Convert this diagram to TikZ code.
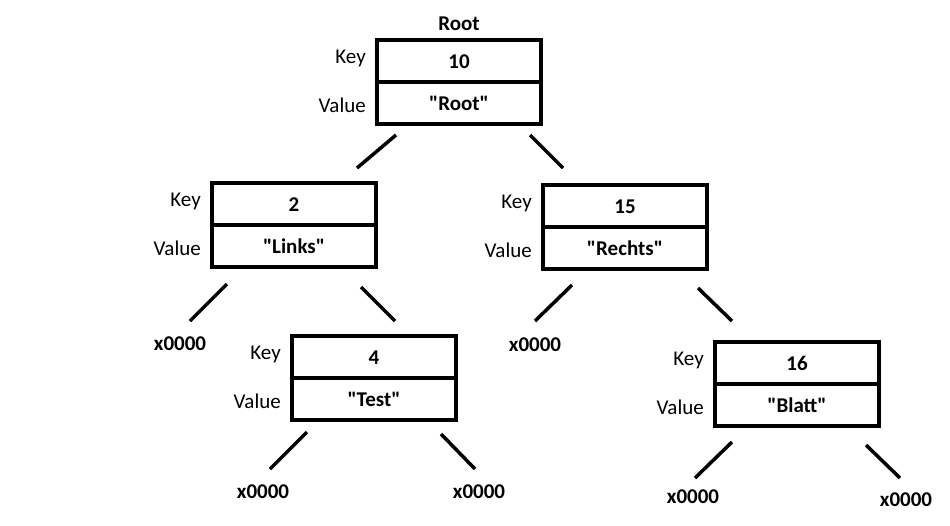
\documentclass[tikz,border=0pt]{standalone}
\usepackage{fontspec}
\setmainfont{Carlito}
\usetikzlibrary{positioning, calc}

\begin{document}
\begin{tikzpicture}[x=1pt, y=-1pt,
	every node/.style = {font=\fontsize{21}{25}\selectfont},
	box/.style = {draw, line width=3.5pt, minimum width=164pt, minimum height=42pt, inner sep=0pt, outer sep=0pt, text height=14pt, text depth=0pt, font=\fontsize{21}{25}\selectfont\bfseries},
	lbl/.style = {inner sep=0pt, yshift=-2pt},
	keylbl/.style = {inner sep=0pt, yshift=3pt},
	leaf/.style = {inner sep=0pt, font=\fontsize{21}{25}\selectfont\bfseries},
	edge/.style = {line width=3.5pt}]
	\useasboundingbox (0,0) rectangle (950,525);

	% root
	\node[box] (k10) at (459,61) {10};
	\node[box, below=0pt of k10] (v10) {\textquotedbl Root\textquotedbl};
	\node[leaf, above=9pt of k10] (top) {Root};
	\node[keylbl, left=11pt of k10] (kl10) {Key};
	\node[lbl, left=11pt of v10] (vl10) {Value};

	% level 1
	\node[box] (k2) at (294,204) {2};
	\node[box, below=0pt of k2] (v2) {\textquotedbl Links\textquotedbl};
	\node[keylbl, left=11pt of k2] (kl2) {Key};
	\node[lbl, left=11pt of v2] (vl2) {Value};

	\node[box] (k15) at (625,206) {15};
	\node[box, below=0pt of k15] (v15) {\textquotedbl Rechts\textquotedbl};
	\node[keylbl, left=11pt of k15] (kl15) {Key};
	\node[lbl, left=11pt of v15] (vl15) {Value};

	% level 2
	\node[box] (k4) at (374,357) {4};
	\node[box, below=0pt of k4] (v4) {\textquotedbl Test\textquotedbl};
	\node[keylbl, left=11pt of k4] (kl4) {Key};
	\node[lbl, left=11pt of v4] (vl4) {Value};

	\node[box] (k16) at (797,363) {16};
	\node[box, below=0pt of k16] (v16) {\textquotedbl Blatt\textquotedbl};
	\node[keylbl, left=11pt of k16] (kl16) {Key};
	\node[lbl, left=11pt of v16] (vl16) {Value};

	% null leaves
	\node[leaf] (n2) at (180,344) {x0000};
	\node[leaf] (n15) at (535,345) {x0000};
	\node[leaf] (n4a) at (263,492) {x0000};
	\node[leaf] (n4b) at (479,492) {x0000};
	\node[leaf] (n16a) at (693,497) {x0000};
	\node[leaf] (n16b) at (906,500) {x0000};

	\draw[edge] ($(v10.south west)+(19,11)$) -- ($(k2.north)+(63,-15)$);
	\draw[edge] ($(v10.south east)+(-11,11)$) -- ($(k15.north)+(-62,-17)$);
	\draw[edge] ($(v2.south west)+(15,17)$) -- ($(n2)+(10,-23)$);
	\draw[edge] ($(v2.south east)+(-15,20)$) -- ($(k4.north)+(21,-15)$);
	\draw[edge] ($(v15.south west)+(29,16)$) -- ($(n15)+(0,-24)$);
	\draw[edge] ($(v15.south east)+(-9,19)$) -- ($(k16.north)+(-65,-21)$);
	\draw[edge] ($(v4.south west)+(15,12)$) -- ($(n4a)+(7,-23)$);
	\draw[edge] ($(v4.south east)+(-15,14)$) -- ($(n4b)+(-4,-23)$);
	\draw[edge] ($(v16.south west)+(17,16)$) -- ($(n16a)+(2,-19)$);
	\draw[edge] ($(v16.south east)+(-13,19)$) -- ($(n16b)+(-6,-22)$);
\end{tikzpicture}
\end{document}
